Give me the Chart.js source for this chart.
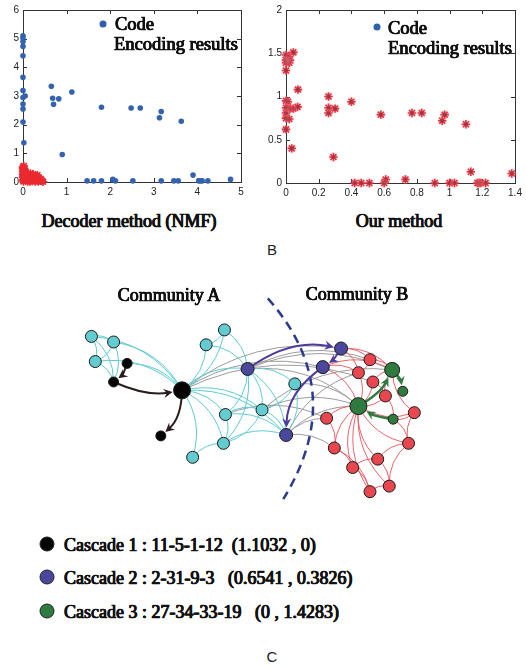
<!DOCTYPE html>
<html>
<head>
<meta charset="utf-8">
<script src="https://cdn.jsdelivr.net/npm/chart.js@4.4.1/dist/chart.umd.min.js"></script>
<style>
  body { margin: 0; background: #fff; }
  #page { position: relative; width: 526px; height: 667px; overflow: hidden; font-family: "Liberation Serif", "Times New Roman", serif; color: #111; }
  canvas { position: absolute; }
  .lbl { position: absolute; white-space: pre; line-height: 1; -webkit-text-stroke: 0.7px #111; text-shadow: 0.35px 0 0 #111, -0.35px 0 0 #111; }
  .mid { transform: translate(-50%, -50%); }
  .left { transform: translateY(-50%); }
  .sans { font-family: "Liberation Sans", Arial, sans-serif; -webkit-text-stroke: 0; text-shadow: none; color: #222; }
  .dot { position: absolute; border-radius: 50%; transform: translate(-50%, -50%); }
</style>
</head>
<body>
<div id="page">
  <canvas id="scatter-nmf" width="250" height="200" style="left:0;top:0"></canvas>
  <canvas id="scatter-ours" width="271" height="200" style="left:255px;top:0"></canvas>
  <canvas id="network" width="526" height="270" style="left:0;top:260px"></canvas>

  <!-- legends inside the two scatter plots -->
  <div class="dot" style="left:103px;top:24px;width:7px;height:7px;background:#2f5fad"></div>
  <div class="lbl left" style="left:115px;top:24px;font-size:18.5px">Code</div>
  <div class="lbl left" style="left:114px;top:44px;font-size:18.5px">Encoding results</div>
  <div class="dot" style="left:377px;top:27px;width:7px;height:7px;background:#2f5fad"></div>
  <div class="lbl left" style="left:388px;top:28px;font-size:18.5px">Code</div>
  <div class="lbl left" style="left:388px;top:48px;font-size:18.5px">Encoding results</div>

  <div class="lbl mid" style="left:129px;top:221px;font-size:18px">Decoder method (NMF)</div>
  <div class="lbl mid" style="left:399px;top:221px;font-size:18px">Our method</div>
  <div class="lbl mid sans" style="left:272px;top:249px;font-size:15px">B</div>

  <div class="lbl mid" style="left:169px;top:295px;font-size:18px">Community A</div>
  <div class="lbl mid" style="left:357px;top:294px;font-size:18px">Community B</div>

  <div id="cascades"></div>
  <div class="lbl mid sans" style="left:272px;top:656px;font-size:15px">C</div>
</div>

<script>
// ---- tick labels ----
const nmfXTicks = [0, 1, 2, 3, 4, 5];
const nmfYTicks = [0, 1, 2, 3, 4, 5, 6];
const oursXTicks = [0, 0.2, 0.4, 0.6, 0.8, 1, 1.2, 1.4];
const oursYTicks = [0, 0.5, 1, 1.5, 2];

// ---- Decoder method (NMF): codes (blue dots) ----
const nmfCodeX = [0, 0, 0, 0, 0, 0, 0, 0, 0.05, 0, 0, 0, 0.02,
  0.65, 0.68, 0.70, 0.82, 1.12, 0.90, 1.80, 2.48, 2.69, 3.17, 3.13, 3.63, 3.90, 4.76,
  1.47, 1.62, 1.80, 2.06, 2.12, 2.52, 3.17, 3.46, 3.56, 4.03, 4.07, 4.11, 4.24];
const nmfCodeY = [5.10, 5.02, 4.90, 4.73, 4.40, 3.65, 3.19, 2.95, 3.00, 2.72, 2.55, 2.09, 1.37,
  3.34, 2.92, 2.71, 2.90, 3.14, 0.96, 2.61, 2.58, 2.58, 2.46, 2.24, 2.12, 0.24, 0.09,
  0.04, 0.04, 0.04, 0.09, 0.04, 0.04, 0.04, 0.04, 0.04, 0.04, 0.04, 0.04, 0.04];

// ---- Decoder method (NMF): encoding results (red stars) ----
const nmfEncX = [0, 0, 0.01, 0, 0.02, 0, 0.01, 0, 0.02, 0, 0.01, 0.03, 0.05, 0.06, 0.08, 0.05, 0.09, 0.06,
  0.04, 0.03, 0.12, 0.14, 0.13, 0.15, 0.11, 0.10, 0.18, 0.20, 0.19, 0.21, 0.17, 0.24, 0.26, 0.25, 0.28,
  0.23, 0.30, 0.32, 0.31, 0.29, 0.36, 0.37, 0.35, 0.41, 0.43, 0.46, 0.39, 0.07, 0.16, 0.22, 0.33, 0.02];
const nmfEncY = [0.52, 0.46, 0.41, 0.36, 0.31, 0.27, 0.22, 0.17, 0.12, 0.07, 0.02, 0.47, 0.35, 0.28, 0.22,
  0.16, 0.10, 0.04, 0.40, 0.20, 0.27, 0.20, 0.13, 0.06, 0.02, 0.16, 0.24, 0.17, 0.10, 0.03, 0.30, 0.22,
  0.15, 0.08, 0.02, 0.27, 0.20, 0.13, 0.06, 0.11, 0.16, 0.08, 0.02, 0.10, 0.04, 0.01, 0.05, 0.32, 0.02,
  0.05, 0.24, 0.56];

// ---- Our method: encoding results ----
const oursX = [0, 0.016, 0, 0.024, 0, 0.02, 0.045, 0, 0.073, 0, 0.012, 0, 0.024, 0.045, 0.071, 0, 0, 0.02,
  0, 0.035, 0.26, 0.26, 0.26, 0.30, 0.40, 0.29, 0.58, 0.77, 0.83, 0.97, 0.955, 1.10, 1.13, 1.38,
  0.42, 0.46, 0.51, 0.60, 0.61, 0.73, 0.91, 1.00, 1.03, 1.17, 1.18, 1.19, 1.22];
const oursY = [1.48, 1.46, 1.42, 1.42, 1.39, 1.39, 1.51, 1.30, 1.08, 0.95, 0.94, 0.87, 0.86, 0.86, 0.88,
  0.81, 0.75, 0.74, 0.62, 0.40, 1.00, 0.87, 0.81, 0.86, 0.94, 0.30, 0.79, 0.81, 0.81, 0.79, 0.72, 0.68,
  0.13, 0.11, 0, 0, 0, 0, 0.04, 0.04, 0, 0, 0, 0, 0, 0, 0];

// ---- network (C): node layout, community / role ----
const nodeX = [85, 108, 89, 223, 204, 296, 224, 262, 222, 190,
  122, 108, 179, 157,
  247, 287, 344, 325,
  374, 362, 377, 390, 329, 420, 414, 382, 337, 356, 394, 374,
  397, 408, 362, 398];
const nodeY = [332, 338, 359, 325, 341, 383, 416, 411, 447, 462,
  361, 381, 390, 439,
  367, 438, 345, 365,
  357, 371, 381, 396, 420, 414, 447, 464, 452, 473, 493, 499,
  368, 391, 407, 421];
const nodeGroup = ['A', 'A', 'A', 'A', 'A', 'A', 'A', 'A', 'A', 'A',
  'c1', 'c1', 'c1', 'c1',
  'c2', 'c2', 'c2', 'c2',
  'B', 'B', 'B', 'B', 'B', 'B', 'B', 'B', 'B', 'B', 'B', 'B',
  'c3', 'c3', 'c3', 'c3'];
const nodeRole = ['n', 'n', 'n', 'n', 'n', 'n', 'n', 'n', 'n', 'n',
  's', 's', 'hub', 's',
  'p', 'p', 'p', 'p',
  'n', 'n', 'n', 'n', 'n', 'n', 'n', 'n', 'n', 'n', 'n', 'n',
  'mid', 's', 'hub', 's'];

const edgesA = [[0, 1], [0, 2], [1, 2], [0, 11], [1, 11], [2, 11], [0, 12], [1, 12], [2, 12], [10, 12],
  [3, 4], [3, 12], [4, 12], [3, 14], [4, 14], [12, 14], [12, 6], [12, 7], [12, 8], [12, 9], [12, 15],
  [14, 5], [14, 7], [14, 6], [14, 15], [14, 8], [6, 8], [6, 15], [7, 8], [7, 15], [8, 15], [9, 8],
  [5, 15], [5, 7], [6, 7]];
const edgesAB = [[12, 17], [12, 16], [14, 18], [14, 30], [5, 32], [7, 30], [7, 32], [15, 32], [15, 22],
  [15, 26], [15, 19], [6, 22], [14, 32], [12, 20]];
const edgesB = [[16, 18], [16, 30], [16, 19], [17, 19], [17, 32], [17, 30], [18, 30], [18, 19], [19, 32],
  [20, 32], [20, 30], [21, 32], [21, 30], [22, 32], [23, 32], [23, 30], [24, 32], [25, 32], [26, 32],
  [27, 32], [28, 32], [29, 32], [22, 26], [26, 27], [27, 29], [29, 28], [28, 24], [24, 23], [25, 28],
  [25, 24], [27, 25], [23, 33], [33, 24], [21, 33], [20, 21], [26, 29]];

const cascade1 = [10, 11, 12, 13];
const cascade2 = [14, 16, 17, 15];
const cascade3 = [33, 32, 30, 31];
const cascadeBend1 = [0.15, -0.15, 0.22];
const cascadeBend2 = [0.22, 0.1, -0.25];
const cascadeBend3 = [0.1, -0.15, 0.15];
const cascadeLabels = ['Cascade 1 : 11-5-1-12  (1.1032 , 0)',
  'Cascade 2 : 2-31-9-3   (0.6541 , 0.3826)',
  'Cascade 3 : 27-34-33-19   (0 , 1.4283)'];

// community border (dashed), in layout units: start, bend, end
const borderX = [268, 353, 284];
const borderY = [291, 391, 507];

// ---- styles ----
const groupColor = { A: '#62ccd0', B: '#e8474f', c1: '#050505', c2: '#4b479c', c3: '#2f7a3e' };
const roleRadius = { n: 6, s: 5, hub: 8.5, p: 6.5, mid: 7.5 };
const cascadeColor = ['#2a1c1c', '#4f3b9e', '#2f7a3e'];

function zip(xs, ys) {
  return xs.map((x, i) => ({ x: x, y: ys[i] }));
}

// MATLAB style box with inward ticks on all 4 sides
const matlabBox = {
  id: 'matlabBox',
  beforeDatasetsDraw(chart) {
    const { ctx, chartArea: a, scales } = chart;
    ctx.save();
    ctx.strokeStyle = '#333';
    ctx.lineWidth = 1;
    ctx.strokeRect(Math.round(a.left) + 0.5, Math.round(a.top) + 0.5, Math.round(a.right - a.left), Math.round(a.bottom - a.top));
    ctx.beginPath();
    scales.x.ticks.forEach(t => {
      const px = Math.round(scales.x.getPixelForValue(t.value)) + 0.5;
      ctx.moveTo(px, a.bottom); ctx.lineTo(px, a.bottom - 4);
      ctx.moveTo(px, a.top); ctx.lineTo(px, a.top + 4);
    });
    scales.y.ticks.forEach(t => {
      const py = Math.round(scales.y.getPixelForValue(t.value)) + 0.5;
      ctx.moveTo(a.left, py); ctx.lineTo(a.left + 4, py);
      ctx.moveTo(a.right, py); ctx.lineTo(a.right - 4, py);
    });
    ctx.stroke();
    ctx.restore();
  }
};

function axis(ticks, fit) {
  return {
    type: 'linear',
    min: ticks[0],
    max: ticks[ticks.length - 1],
    afterBuildTicks: s => { s.ticks = ticks.map(v => ({ value: v })); },
    afterFit: fit,
    grid: { display: false, drawTicks: false },
    border: { display: false },
    ticks: {
      autoSkip: false, maxRotation: 0, padding: 4, color: '#222',
      font: { family: 'Liberation Sans', size: 10 },
      callback: v => String(v)
    }
  };
}

function scatterOptions(xTicks, yTicks, padding, yWidth, xHeight) {
  return {
    responsive: false,
    animation: false,
    layout: { padding: padding },
    plugins: { legend: { display: false }, tooltip: { enabled: false } },
    scales: {
      x: axis(xTicks, s => { s.height = xHeight; }),
      y: axis(yTicks, s => { s.width = yWidth; })
    }
  };
}

function createChart(id, type, data, options, plugins) {
  return new Chart(document.getElementById(id).getContext('2d'), {
    type: type, data: data, options: options, plugins: plugins || []
  });
}

// Scatter B left
createChart('scatter-nmf', 'scatter', {
  datasets: [
    { label: 'Code', data: zip(nmfCodeX, nmfCodeY), pointRadius: 2.8, backgroundColor: '#3363b0', borderWidth: 0, clip: false },
    { label: 'Encoding results', data: zip(nmfEncX, nmfEncY), pointStyle: 'star', pointRadius: 4.2, borderColor: '#ea2a2f', borderWidth: 1.6, clip: false }
  ]
}, scatterOptions(nmfXTicks, nmfYTicks, { top: 9, right: 9, left: 0, bottom: 0 }, 23, 18), [matlabBox]);

// Scatter B right
const oursPoints = zip(oursX, oursY);
createChart('scatter-ours', 'scatter', {
  datasets: [
    { label: 'halo', data: oursPoints, pointRadius: 4.5, backgroundColor: 'rgba(240,110,120,0.22)', borderWidth: 0, clip: false },
    { label: 'Code', data: oursPoints, pointRadius: 1.8, backgroundColor: '#7a2a45', borderWidth: 0, clip: false },
    { label: 'Encoding results', data: oursPoints, pointStyle: 'star', pointRadius: 4.2, borderColor: '#e2222b', borderWidth: 1.6, clip: false }
  ]
}, scatterOptions(oursXTicks, oursYTicks, { top: 7, right: 11, left: 0, bottom: 0 }, 31, 17), [matlabBox]);

// ---- network plugin: edges, cascades, community border ----
function bend(x1, y1, x2, y2, k) {
  return [(x1 + x2) / 2 + k * (y2 - y1), (y1 + y2) / 2 - k * (x2 - x1)];
}

const networkEdges = {
  id: 'networkEdges',
  beforeDatasetsDraw(chart) {
    const { ctx } = chart;
    const sx = chart.scales.x, sy = chart.scales.y;
    const px = i => sx.getPixelForValue(nodeX[i]);
    const py = i => sy.getPixelForValue(nodeY[i]);
    const rad = i => roleRadius[nodeRole[i]];

    function curve(a, b, k) {
      const x1 = px(a), y1 = py(a), x2 = px(b), y2 = py(b);
      const c = bend(x1, y1, x2, y2, k);
      ctx.beginPath();
      ctx.moveTo(x1, y1);
      ctx.quadraticCurveTo(c[0], c[1], x2, y2);
      ctx.stroke();
    }

    ctx.save();
    ctx.lineWidth = 1;
    ctx.strokeStyle = '#9c9c9c';
    edgesAB.forEach(e => curve(e[0], e[1], 0.22));
    ctx.strokeStyle = '#5fcbd0';
    edgesA.forEach(e => curve(e[0], e[1], 0.25));
    ctx.strokeStyle = '#ec5058';
    ctx.lineWidth = 0.9;
    edgesB.forEach(e => curve(e[0], e[1], 0.25));

    // community border
    ctx.strokeStyle = '#2b3a8f';
    ctx.lineWidth = 2.5;
    ctx.setLineDash([9, 6]);
    ctx.beginPath();
    ctx.moveTo(sx.getPixelForValue(borderX[0]), sy.getPixelForValue(borderY[0]));
    ctx.quadraticCurveTo(sx.getPixelForValue(borderX[1]), sy.getPixelForValue(borderY[1]),
      sx.getPixelForValue(borderX[2]), sy.getPixelForValue(borderY[2]));
    ctx.stroke();
    ctx.setLineDash([]);

    // cascades with arrow heads
    [[cascade1, cascadeBend1], [cascade2, cascadeBend2], [cascade3, cascadeBend3]].forEach((cs, ci) => {
      const path = cs[0], bends = cs[1];
      ctx.strokeStyle = cascadeColor[ci];
      ctx.fillStyle = cascadeColor[ci];
      ctx.lineWidth = ci == 2 ? 2.6 : 2;
      for (let i = 0; i < path.length - 1; i++) {
        const a = path[i], b = path[i + 1];
        const x1 = px(a), y1 = py(a), x2 = px(b), y2 = py(b);
        const c = bend(x1, y1, x2, y2, bends[i]);
        let dx = x2 - c[0], dy = y2 - c[1];
        const len = Math.hypot(dx, dy);
        dx /= len; dy /= len;
        const tx = x2 - dx * (rad(b) + 1), ty = y2 - dy * (rad(b) + 1);
        ctx.beginPath();
        ctx.moveTo(x1, y1);
        ctx.quadraticCurveTo(c[0], c[1], tx - dx * 5, ty - dy * 5);
        ctx.stroke();
        ctx.beginPath();
        ctx.moveTo(tx, ty);
        ctx.lineTo(tx - dx * 9 - dy * 4.5, ty - dy * 9 + dx * 4.5);
        ctx.lineTo(tx - dx * 6, ty - dy * 6);
        ctx.lineTo(tx - dx * 9 + dy * 4.5, ty - dy * 9 - dx * 4.5);
        ctx.closePath();
        ctx.fill();
      }
    });
    ctx.restore();
  }
};

createChart('network', 'scatter', {
  datasets: [{
    label: 'nodes',
    data: zip(nodeX, nodeY),
    pointRadius: nodeRole.map(r => roleRadius[r]),
    backgroundColor: nodeGroup.map(g => groupColor[g]),
    borderColor: '#1a1a1a',
    borderWidth: 1,
    clip: false
  }]
}, {
  responsive: false,
  animation: false,
  layout: { padding: 0 },
  plugins: { legend: { display: false }, tooltip: { enabled: false } },
  scales: {
    x: { type: 'linear', min: 0, max: 526, display: false },
    y: { type: 'linear', min: 260, max: 530, reverse: true, display: false }
  }
}, [networkEdges]);

// ---- cascade legend ----
const legendBox = document.getElementById('cascades');
const legendColor = [groupColor.c1, groupColor.c2, groupColor.c3];
cascadeLabels.forEach((text, i) => {
  const top = 544 + i * 33.3;
  legendBox.insertAdjacentHTML('beforeend',
    '<div class="dot" style="left:47px;top:' + top + 'px;width:13px;height:13px;background:' + legendColor[i] + ';border:1px solid #222"></div>' +
    '<div class="lbl left" style="left:64px;top:' + (top + 1) + 'px;font-size:18px">' + text + '</div>');
});
</script>
</body>
</html>
